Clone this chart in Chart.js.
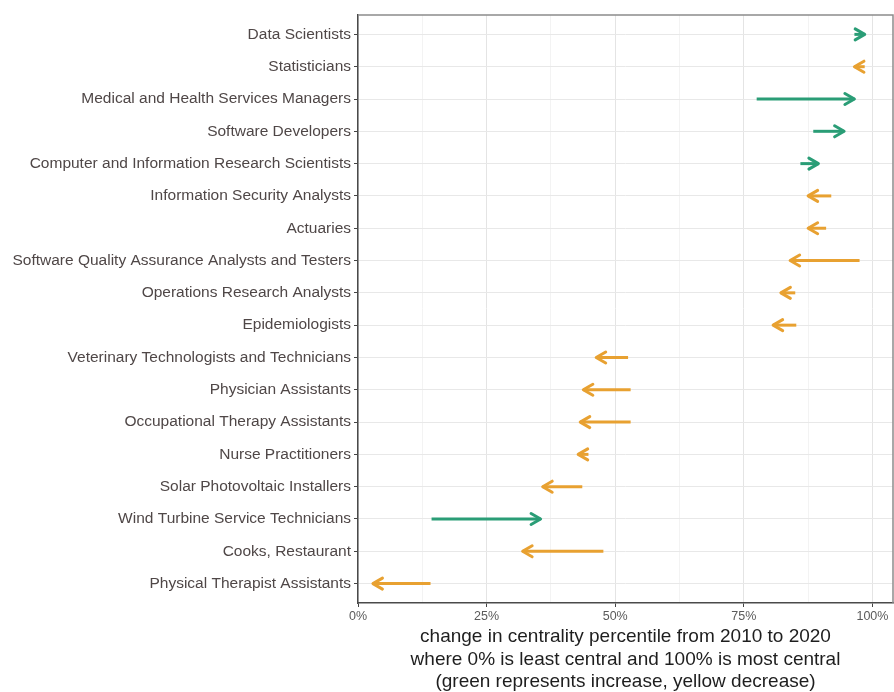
<!DOCTYPE html>
<html>
<head>
<meta charset="utf-8">
<script src="https://cdn.jsdelivr.net/npm/chart.js@4"></script>
<style>
  html, body { margin: 0; padding: 0; background: #fff; }
  #wrap { width: 894px; height: 692px; }
</style>
</head>
<body>
<div id="wrap"><canvas id="chart" width="894" height="692"></canvas></div>
<script>
// --- data: occupations listed top to bottom ---
const occupations = [
    'Data Scientists',
    'Statisticians',
    'Medical and Health Services Managers',
    'Software Developers',
    'Computer and Information Research Scientists',
    'Information Security Analysts',
    'Actuaries',
    'Software Quality Assurance Analysts and Testers',
    'Operations Research Analysts',
    'Epidemiologists',
    'Veterinary Technologists and Technicians',
    'Physician Assistants',
    'Occupational Therapy Assistants',
    'Nurse Practitioners',
    'Solar Photovoltaic Installers',
    'Wind Turbine Service Technicians',
    'Cooks, Restaurant',
    'Physical Therapist Assistants'
];
// centrality percentile (%) in 2010 and 2020
const pct2010 = [96.5, 98.5, 77.5, 88.5, 86.0, 92.0, 91.0, 97.5, 85.0, 85.2, 52.5, 53.0, 53.0, 44.8, 43.6, 14.3, 47.7, 14.1];
const pct2020 = [98.5, 96.5, 96.5, 94.5, 89.5, 87.5, 87.5, 84.0, 82.2, 80.7, 46.3, 43.8, 43.2, 42.8, 35.9, 35.5, 32.0, 2.9];
// x ticks: majors get a label, minors only a grid line
const xTicks = [0, 12.5, 25, 37.5, 50, 62.5, 75, 87.5, 100];
const xTitle = [
    'change in centrality percentile from 2010 to 2020',
    'where 0% is least central and 100% is most central',
    '(green represents increase, yellow decrease)'
];

const GREEN = '#2a9d76';
const ORANGE = '#e8a131';
const HEAD = 11;

Chart.defaults.font.family = '"Liberation Sans", Arial, sans-serif';

const datasets = occupations.map((name, i) => ({
    label: name,
    data: [{ x: pct2010[i], y: i }, { x: pct2020[i], y: i }],
    borderColor: pct2020[i] >= pct2010[i] ? GREEN : ORANGE,
    borderWidth: 3,
    pointRadius: 0,
    tension: 0,
    clip: false
}));

// arrow heads at the 2020 end of each segment
const arrowHeads = {
    id: 'arrowHeads',
    afterDatasetsDraw(chart) {
        const ctx = chart.ctx;
        const c = Math.cos(Math.PI / 6), s = Math.sin(Math.PI / 6);
        chart.data.datasets.forEach((ds, i) => {
            const pts = chart.getDatasetMeta(i).data;
            const a = pts[0], b = pts[1];
            const dir = Math.sign(b.x - a.x) || 1;
            ctx.save();
            ctx.strokeStyle = ds.borderColor;
            ctx.lineWidth = 3;
            ctx.lineCap = 'round';
            ctx.lineJoin = 'round';
            ctx.beginPath();
            ctx.moveTo(b.x - dir * HEAD * c, b.y - HEAD * s);
            ctx.lineTo(b.x, b.y);
            ctx.lineTo(b.x - dir * HEAD * c, b.y + HEAD * s);
            ctx.stroke();
            ctx.restore();
        });
    }
};

// panel border on top / right (left & bottom are the axis lines)
const panelBorder = {
    id: 'panelBorder',
    afterDraw(chart) {
        const { ctx, chartArea: a } = chart;
        ctx.save();
        ctx.strokeStyle = '#8c8c8c';
        ctx.lineWidth = 1.5;
        ctx.beginPath();
        ctx.moveTo(a.left, a.top);
        ctx.lineTo(a.right, a.top);
        ctx.lineTo(a.right, a.bottom);
        ctx.stroke();
        ctx.restore();
    }
};

new Chart(document.getElementById('chart'), {
    type: 'line',
    data: { datasets: datasets },
    plugins: [arrowHeads, panelBorder],
    options: {
        responsive: false,
        animation: false,
        layout: { padding: { top: 15, right: 1, left: 0, bottom: 0 } },
        plugins: { legend: { display: false }, tooltip: { enabled: false } },
        scales: {
            x: {
                type: 'linear',
                min: 0,
                max: 104,
                afterBuildTicks: sc => { sc.ticks = xTicks.map(v => ({ value: v })); },
                afterFit: sc => { sc.height = 89; },
                grid: {
                    color: ctx => (ctx.tick && ctx.tick.value % 25 === 0) ? '#e4e4e4' : '#f3f3f3',
                    tickColor: ctx => (ctx.tick && ctx.tick.value % 25 === 0) ? '#444' : 'rgba(0,0,0,0)',
                    tickLength: 4,
                    lineWidth: 1
                },
                border: { color: '#4a4a4a', width: 1.5 },
                ticks: {
                    autoSkip: false,
                    maxRotation: 0,
                    padding: 2,
                    color: '#5a5a5a',
                    font: { size: 12.5 },
                    callback: v => v % 25 === 0 ? v + '%' : ''
                },
                title: {
                    display: true,
                    text: xTitle,
                    color: '#1e1e1e',
                    font: { size: 19, lineHeight: 1.18 },
                    padding: { top: 0, bottom: -1 }
                }
            },
            y: {
                type: 'linear',
                reverse: true,
                min: -0.6,
                max: 17.6,
                afterBuildTicks: sc => { sc.ticks = occupations.map((_, i) => ({ value: i })); },
                afterFit: sc => { sc.width = 358; },
                grid: {
                    color: '#e8e8e8',
                    tickColor: '#444',
                    tickLength: 4,
                    lineWidth: 1
                },
                border: { color: '#4a4a4a', width: 1.5 },
                ticks: {
                    autoSkip: false,
                    padding: 3,
                    color: '#4f4747',
                    font: { size: 15.5 },
                    callback: v => occupations[v]
                }
            }
        }
    }
});
</script>
</body>
</html>
